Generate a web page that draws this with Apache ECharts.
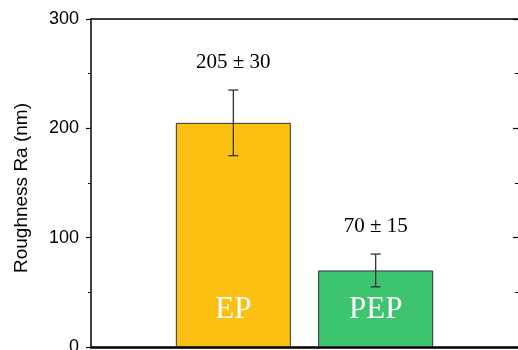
<!DOCTYPE html>
<html>
<head>
<meta charset="utf-8">
<script src="https://cdn.jsdelivr.net/npm/echarts@6/dist/echarts.min.js"></script>
<style>
  html, body { margin: 0; padding: 0; background: #fff; }
  #chart { width: 518px; height: 350px; }
</style>
</head>
<body>
<div id="chart"></div>
<script>
// Surface roughness of the two samples
var categories = ['EP', 'PEP'];
var roughness = [205, 70];
var roughnessErr = [30, 15];
var barColors = ['#FCC013', '#3CC46E'];
var yTicks = [0, 100, 200, 300];

var serif = '"Liberation Serif", "Times New Roman", serif';
var sans = '"Liberation Sans", Arial, sans-serif';

// bars sit at x = 1, 2 on a 0..3 value axis
var barData = categories.map(function (c, i) {
  return {
    value: [i + 1, roughness[i]],
    name: c,
    itemStyle: { color: barColors[i] }
  };
});
var errData = categories.map(function (c, i) {
  return [i + 1, roughness[i], roughnessErr[i]];
});

var chart = echarts.init(document.getElementById('chart'));
chart.setOption({
  animation: false,
  grid: { left: 91, right: 0, top: 19, bottom: 3, containLabel: false, outerBoundsMode: 'none' },
  xAxis: [{
    type: 'value', min: 0, max: 3, position: 'bottom',
    axisLine: { show: true, onZero: false, lineStyle: { color: '#000', width: 2.5 } },
    axisTick: { show: false }, axisLabel: { show: false }, splitLine: { show: false }
  }, {
    type: 'value', min: 0, max: 3, position: 'top',
    axisLine: { show: true, onZero: false, lineStyle: { color: '#000', width: 1.5 } },
    axisTick: { show: false }, axisLabel: { show: false }, splitLine: { show: false }
  }],
  yAxis: [{
    type: 'value', min: yTicks[0], max: yTicks[yTicks.length - 1], interval: 100,
    position: 'left',
    name: 'Roughness Ra (nm)', nameLocation: 'middle', nameGap: 60,
    nameTextStyle: { fontFamily: sans, fontSize: 19, color: '#000', padding: [0, 10, 0, 0] },
    axisLine: { show: true, onZero: false, lineStyle: { color: '#000', width: 1.5 } },
    axisTick: { show: true, inside: false, length: 5, lineStyle: { color: '#000', width: 1.2 } },
    minorTick: { show: true, splitNumber: 2, length: 3, lineStyle: { color: '#000', width: 1 } },
    axisLabel: { fontFamily: sans, fontSize: 18, color: '#000', margin: 12 },
    splitLine: { show: false }
  }, {
    type: 'value', min: yTicks[0], max: yTicks[yTicks.length - 1], interval: 100,
    position: 'right',
    axisLine: { show: false, onZero: false },
    axisTick: { show: true, inside: true, length: 5, lineStyle: { color: '#000', width: 1.2 } },
    minorTick: { show: true, splitNumber: 2, length: 3, lineStyle: { color: '#000', width: 1 } },
    axisLabel: { show: false },
    splitLine: { show: false }
  }],
  series: [{
    type: 'bar',
    data: barData,
    barWidth: 115,
    itemStyle: { borderColor: '#333', borderWidth: 1 },
    label: {
      show: true, position: 'insideBottom', distance: 22,
      formatter: function (p) { return p.name; },
      fontFamily: serif, fontSize: 31, color: '#fff'
    },
    z: 2
  }, {
    type: 'custom',
    data: errData,
    z: 5,
    renderItem: function (params, api) {
      var x = api.value(0), y = api.value(1), e = api.value(2);
      var hi = api.coord([x, y + e]);
      var lo = api.coord([x, y - e]);
      var cap = 5;
      var st = { stroke: '#333', lineWidth: 1.3 };
      var txt = Math.round(y) + ' \u00b1 ' + Math.round(e);
      return {
        type: 'group',
        children: [
          { type: 'line', shape: { x1: hi[0], y1: hi[1], x2: lo[0], y2: lo[1] }, style: st },
          { type: 'line', shape: { x1: hi[0] - cap, y1: hi[1], x2: hi[0] + cap, y2: hi[1] }, style: st },
          { type: 'line', shape: { x1: lo[0] - cap, y1: lo[1], x2: lo[0] + cap, y2: lo[1] }, style: st },
          {
            type: 'text',
            style: {
              x: hi[0], y: hi[1] - 28, text: txt,
              textAlign: 'center', textVerticalAlign: 'middle',
              font: '21px ' + serif, fill: '#000'
            }
          }
        ]
      };
    }
  }]
});
</script>
</body>
</html>
